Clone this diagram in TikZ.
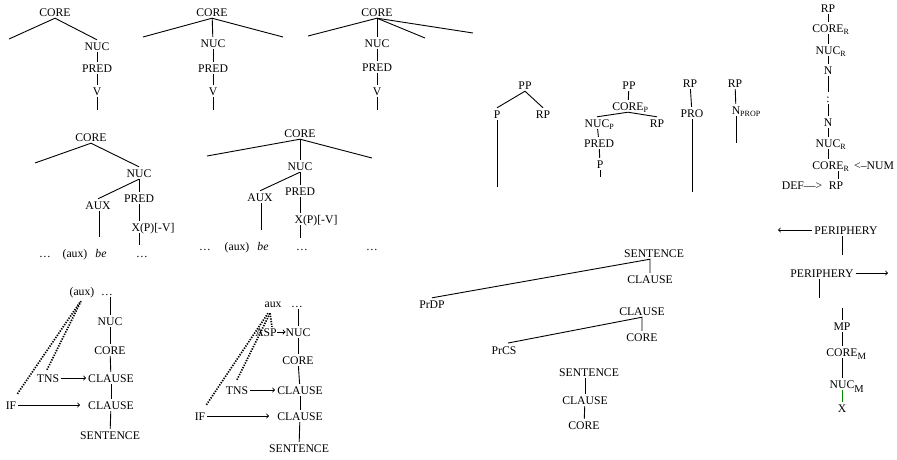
\documentclass[tikz,border=0pt]{standalone}
\usepackage{fontspec}
\setmainfont{Liberation Serif}
\usetikzlibrary{calc}

% subscripts that do not shift the centre of the label they follow
\newcommand\subsm[1]{\rlap{\raisebox{-2.5pt}{\fontsize{8}{9}\selectfont #1}}}
\newcommand\subbig[1]{\rlap{\raisebox{-4pt}{\fontsize{10.5}{12}\selectfont #1}}}
\newcommand\submid[1]{\rlap{\raisebox{-3pt}{\fontsize{9.5}{11}\selectfont #1}}}

\tikzset{
  lbl/.style={inner sep=2pt, text height=8pt, text depth=0pt,
              font=\fontsize{11.7}{14}\selectfont},
  edge/.style={line width=0.9pt},
  arr/.style={line width=0.9pt, ->},
  dotline/.style={line width=1.7pt, dash pattern=on 1.3pt off 1.3pt},
  greenedge/.style={line width=0.9pt, draw=green!55!black},
}

\begin{document}
\begin{tikzpicture}[x=1pt,y=-1pt]
\useasboundingbox (0,0) rectangle (897,459);

% ---------- first row: three CORE templates ----------
\node[lbl] (t1c) at (55,12) {CORE};
\node[lbl] (t1n) at (97,46) {NUC};
\node[lbl] (t1p) at (97,68) {PRED};
\node[lbl] (t1v) at (97,91) {V};
\coordinate (t1l) at (9,39);
\coordinate (t1e) at (97,110);
\draw[edge] (t1l) -- (t1c.south) -- (t1n.north);
\draw[edge] (t1n) -- (t1p);
\draw[edge] (t1p) -- (t1v);
\draw[edge] (t1v) -- (t1e);

\node[lbl] (t2c) at (212,12) {CORE};
\node[lbl] (t2n) at (213,43) {NUC};
\node[lbl] (t2p) at (213,68) {PRED};
\node[lbl] (t2v) at (213,91) {V};
\coordinate (t2l) at (143,37);
\coordinate (t2r) at (283,37);
\coordinate (t2e) at (213,110);
\draw[edge] (t2l) -- (t2c.south) -- (t2r);
\draw[edge] (t2c) -- (t2n);
\draw[edge] (t2n) -- (t2p);
\draw[edge] (t2p) -- (t2v);
\draw[edge] (t2v) -- (t2e);

\node[lbl] (t3c) at (377,12) {CORE};
\node[lbl] (t3n) at (377,43) {NUC};
\node[lbl] (t3p) at (377,67) {PRED};
\node[lbl] (t3v) at (377,91) {V};
\coordinate (t3l) at (308,36);
\coordinate (t3m) at (425,38);
\coordinate (t3r) at (473,33);
\coordinate (t3e) at (377,110);
\draw[edge] (t3l) -- (t3c.south) -- (t3r);
\draw[edge] (t3c.south) -- (t3m);
\draw[edge] (t3c) -- (t3n);
\draw[edge] (t3n) -- (t3p);
\draw[edge] (t3p) -- (t3v);
\draw[edge] (t3v) -- (t3e);

% ---------- second row: auxiliary be ----------
\node[lbl] (ac) at (91,137) {CORE};
\node[lbl] (an) at (139,173) {NUC};
\node[lbl] (aaux) at (98,205) {AUX};
\node[lbl] (apred) at (139,198) {PRED};
\node[lbl] (ax) at (153,227) {X(P)[-V]};
\coordinate (al) at (35,163);
\coordinate (axe) at (139,245);
\coordinate (aauxe) at (99,237);
\draw[edge] (al) -- (ac.south) -- (an.north);
\draw[edge] (an.south) -- (aaux.north);
\draw[edge] (an) -- (apred);
\draw[edge] (apred.south) -- (apred.south |- ax.north);
\draw[edge] (ax.south -| axe) -- (axe);
\draw[edge] (aaux.south -| aauxe) -- (aauxe);
\node[lbl] (ab1) at (45,253) {…};
\node[lbl] (ab2) at (75,253) {(aux)};
\node[lbl] (ab3) at (101,253) {\textit{be}};
\node[lbl] (ab4) at (142,253) {…};

\node[lbl] (bc) at (300,133) {CORE};
\node[lbl] (bn) at (300,166) {NUC};
\node[lbl] (baux) at (260,197) {AUX};
\node[lbl] (bpred) at (300,191) {PRED};
\node[lbl] (bx) at (316,219) {X(P)[-V]};
\coordinate (bl) at (207,156);
\coordinate (br) at (372,158);
\coordinate (bxe) at (300,238);
\coordinate (bauxe) at (261,230);
\draw[edge] (bl) -- (bc.south) -- (br);
\draw[edge] (bc) -- (bn);
\draw[edge] (bn.south) -- (baux.north);
\draw[edge] (bn) -- (bpred);
\draw[edge] (bpred.south) -- (bpred.south |- bx.north);
\draw[edge] (bx.south -| bxe) -- (bxe);
\draw[edge] (baux.south -| bauxe) -- (bauxe);
\node[lbl] (bb1) at (205,246) {…};
\node[lbl] (bb2) at (237,246) {(aux)};
\node[lbl] (bb3) at (263,246) {\textit{be}};
\node[lbl] (bb4) at (302,246) {…};
\node[lbl] (bb5) at (372,246) {…};

% ---------- third row: operators ----------
\node[lbl] (caux) at (82,291) {(aux)};
\node[lbl] (cdots) at (107,291) {…};
\node[lbl] (cn) at (110,321) {NUC};
\node[lbl] (cc) at (110,350) {CORE};
\node[lbl] (ccl1) at (111,378) {CLAUSE};
\node[lbl] (ccl2) at (111,405) {CLAUSE};
\node[lbl] (cs) at (110,435) {SENTENCE};
\node[lbl] (ctns) at (48,378) {TNS};
\node[lbl] (cif) at (11,405) {IF};
\draw[edge] (cdots.south -| cn.north) -- (cn.north);
\draw[edge] (cn) -- (cc);
\draw[edge] (cc) -- (ccl1);
\draw[edge] (ccl1) -- (ccl2);
\draw[edge] (ccl2) -- (cs);
\draw[arr] (ctns) -- (ccl1);
\draw[arr, shorten >=6pt] (cif) -- (ccl2);
\draw[dotline] ($(cif.north east)+(-1,-5)$) -- ($(caux.south)+(-2,5)$);
\draw[dotline] ($(ctns.north)+(-1,-2)$) -- ($(caux.south)+(-1,4)$);

\node[lbl] (daux) at (273,303) {aux};
\node[lbl] (ddots) at (297,303) {…};
\node[lbl] (dn) at (298,332) {NUC};
\node[lbl] (dasp) at (266,332) {ASP};
\node[lbl] (dc) at (298,360) {CORE};
\node[lbl] (dcl1) at (300,390) {CLAUSE};
\node[lbl] (dcl2) at (300,416) {CLAUSE};
\node[lbl] (ds) at (299,448) {SENTENCE};
\node[lbl] (dtns) at (237,390) {TNS};
\node[lbl] (dif) at (200,416) {IF};
\draw[edge] (ddots.south -| dn.north) -- (dn.north);
\draw[edge] (dn) -- (dc);
\draw[edge] (dc) -- (dcl1);
\draw[edge] (dcl1) -- (dcl2);
\draw[edge] (dcl2) -- (ds);
\draw[arr] ($(dasp.east)+(-2,0)$) -- ($(dn.west)+(2,0)$);
\draw[arr] (dtns) -- (dcl1);
\draw[arr, shorten >=6pt] (dif) -- (dcl2);
\draw[dotline] ($(dif.north east)+(-1,-5)$) -- ($(daux.south)+(-5,4)$);
\draw[dotline] ($(dtns.north)+(0,-4)$) -- ($(daux.south)+(-3,4)$);
\draw[dotline] ($(daux.south)+(-3,4)$) -- ($(dasp.north)+(6,1)$);

% ---------- PP and RP templates ----------
\node[lbl] (ppa) at (525,85) {PP};
\node[lbl] (ppap) at (497,114) {P};
\node[lbl] (ppar) at (543,114) {RP};
\coordinate (ppae) at (497,187);
\draw[edge] (ppap.north) -- (ppa.south) -- (ppar.north);
\draw[edge] (ppap) -- (ppae);

\node[lbl] (ppb) at (629,85) {PP};
\node[lbl] (ppbc) at (628,106) {CORE\subsm{P}};
\node[lbl] (ppbn) at (597,123) {NUC\subsm{P}};
\node[lbl] (ppbr) at (657,123) {RP};
\node[lbl] (ppbpr) at (599,143) {PRED};
\node[lbl] (ppbp) at (600,164) {P};
\coordinate (ppbe) at (600,177);
\draw[edge] (ppb) -- (ppbc);
\draw[edge] (ppbn.north) -- (ppbc.south) -- (ppbr.north);
\draw[edge] (ppbn) -- (ppbpr);
\draw[edge] (ppbpr) -- (ppbp);
\draw[edge] (ppbp) -- (ppbe);

\node[lbl] (rpa) at (690,83) {RP};
\node[lbl] (rpapro) at (692,113) {PRO};
\coordinate (rpae) at (692,192);
\draw[edge] (rpa) -- (rpapro);
\draw[edge] (rpapro) -- (rpae);

\node[lbl] (rpb) at (735,83) {RP};
\node[lbl] (rpbn) at (736,110) {N\subsm{PROP}};
\coordinate (rpbe) at (736,143);
\draw[edge] (rpb) -- (rpbn);
\draw[edge] (rpbn) -- (rpbe);

% ---------- RP with nested nominal layers ----------
\node[lbl] (ra) at (828,8) {RP};
\node[lbl] (rcore) at (828,28) {CORE\subsm{R}};
\node[lbl] (rnuc) at (828,50) {NUC\subsm{R}};
\node[lbl] (rn1) at (828,70) {N};
\node[lbl] (rcol) at (828,98) {:};
\node[lbl] (rn2) at (828,122) {N};
\node[lbl] (rnuc2) at (828,143) {NUC\subsm{R}};
\node[lbl] (rcore2) at (828,165) {CORE\subsm{R}};
\node[lbl, anchor=west] (rnum) at (852,165) {<–NUM};
\node[lbl] (rrp2) at (836,185) {RP};
\node[lbl] (rdef) at (802,185) {DEF—>};
\draw[edge] (ra) -- (rcore);
\draw[edge] (rcore) -- (rnuc);
\draw[edge] (rnuc) -- (rn1);
\draw[edge] (rn1) -- (rcol);
\draw[edge] (rcol) -- (rn2);
\draw[edge] (rn2) -- (rnuc2);
\draw[edge] (rnuc2) -- (rcore2);
\draw[edge] ([xshift=2pt]rcore2.south -| rrp2.north) -- ([xshift=2pt]rrp2.north);

% ---------- prenuclear / detached positions ----------
\node[lbl] (es) at (654,253) {SENTENCE};
\node[lbl] (ecl) at (650,279) {CLAUSE};
\node[lbl] (eprdp) at (432,304) {PrDP};
\draw[edge] (eprdp.north) -- (es.south -| ecl.north) -- (ecl.north);

\node[lbl] (fcl) at (642,311) {CLAUSE};
\node[lbl] (fc) at (642,337) {CORE};
\node[lbl] (fprcs) at (504,350) {PrCS};
\draw[edge, shorten <=4pt] (fprcs.north) -- (fcl.south) -- (fc.north);

\node[lbl] (gs) at (589,372) {SENTENCE};
\node[lbl] (gcl) at (585,400) {CLAUSE};
\node[lbl] (gc) at (584,425) {CORE};
\draw[edge] (gs.south -| gcl.north) -- (gcl.north);
\draw[edge] (gcl) -- (gc);

% ---------- peripheries and MP ----------
\node[lbl] (pe1) at (846,230) {PERIPHERY};
\node[lbl] (pe2) at (822,273) {PERIPHERY};
\coordinate (pe1a) at (778,230);
\coordinate (pe2a) at (888,273);
\coordinate (pe1d) at (842,255);
\coordinate (pe2d) at (819,298);
\coordinate (mpt) at (842,308);
\draw[arr] (pe1.west) -- (pe1a);
\draw[arr] (pe2.east) -- (pe2a);
\draw[edge] (pe1.south -| pe1d) -- (pe1d);
\draw[edge] (pe2.south -| pe2d) -- (pe2d);

\node[lbl] (mp) at (842,326) {MP};
\node[lbl] (mcore) at (842,352) {CORE\submid{M}};
\node[lbl] (mnuc) at (842,384) {NUC\subbig{M}};
\node[lbl] (mx) at (842,408) {X};
\draw[edge] (mpt) -- (mp.north);
\draw[edge] (mp) -- (mcore);
\draw[edge] (mcore) -- (mnuc);
\draw[greenedge] (mnuc) -- (mx);

\end{tikzpicture}
\end{document}
